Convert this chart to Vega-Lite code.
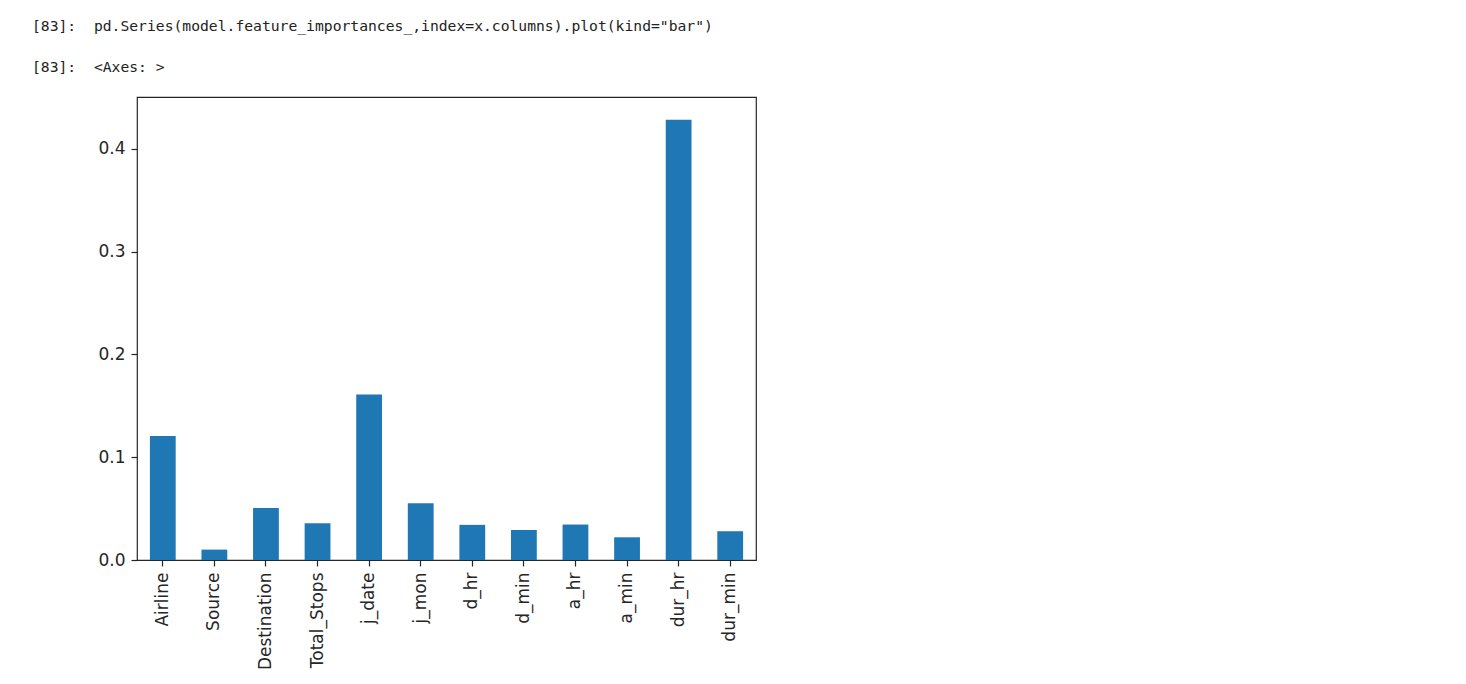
{
  "$schema": "https://vega.github.io/schema/vega-lite/v6.json",
  "width": 619,
  "height": 463,
  "autosize": {"type": "none"},
  "padding": {"left": 137, "top": 97, "right": 710, "bottom": 124},
  "background": "white",
  "title": {
    "text": "[83]:\u00a0 pd.Series(model.feature_importances_,index=x.columns).plot(kind=\"bar\")",
    "subtitle": "[83]:\u00a0 <Axes: >",
    "anchor": "start",
    "frame": "group",
    "dx": -105,
    "offset": 22,
    "font": "DejaVu Sans Mono",
    "fontSize": 14.7,
    "fontWeight": "normal",
    "color": "#222222",
    "subtitleFont": "DejaVu Sans Mono",
    "subtitleFontSize": 14.7,
    "subtitleColor": "#222222",
    "subtitlePadding": 27
  },
  "data": {
    "values": [
      {"feature": "Airline", "importance": 0.1206},
      {"feature": "Source", "importance": 0.0101},
      {"feature": "Destination", "importance": 0.0506},
      {"feature": "Total_Stops", "importance": 0.0358},
      {"feature": "j_date", "importance": 0.161},
      {"feature": "j_mon", "importance": 0.0552},
      {"feature": "d_hr", "importance": 0.0342},
      {"feature": "d_min", "importance": 0.0292},
      {"feature": "a_hr", "importance": 0.0345},
      {"feature": "a_min", "importance": 0.0221},
      {"feature": "dur_hr", "importance": 0.4285},
      {"feature": "dur_min", "importance": 0.028}
    ]
  },
  "mark": {"type": "bar", "color": "#1f77b4"},
  "encoding": {
    "x": {
      "field": "feature",
      "type": "nominal",
      "sort": null,
      "scale": {"paddingInner": 0.5, "paddingOuter": 0.25},
      "axis": {
        "title": null,
        "labelAngle": -90,
        "labelFont": "DejaVu Sans",
        "labelFontSize": 17,
        "labelColor": "#262626",
        "labelPadding": 6,
        "tickSize": 6,
        "tickColor": "#262626",
        "tickWidth": 1.2,
        "domain": false,
        "grid": false
      }
    },
    "y": {
      "field": "importance",
      "type": "quantitative",
      "scale": {"domain": [0, 0.4506], "nice": false, "zero": true},
      "axis": {
        "title": null,
        "values": [0, 0.1, 0.2, 0.3, 0.4],
        "format": ".1f",
        "labelFont": "DejaVu Sans",
        "labelFontSize": 17,
        "labelColor": "#262626",
        "labelPadding": 6,
        "tickSize": 6,
        "tickColor": "#262626",
        "tickWidth": 1.2,
        "domain": false,
        "grid": false
      }
    }
  },
  "config": {
    "view": {"stroke": "#262626", "strokeWidth": 1.2}
  }
}
